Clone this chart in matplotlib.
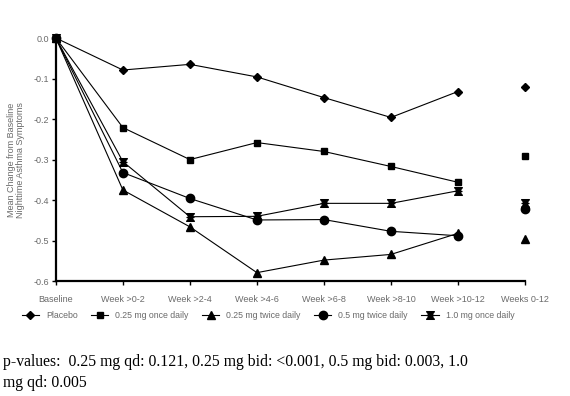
import numpy as np
import matplotlib
matplotlib.use("Agg")
import matplotlib.pyplot as plt
from matplotlib.path import Path

# categories and values
periods = ["Baseline", "Week >0-2", "Week >2-4", "Week >4-6", "Week >6-8",
           "Week >8-10", "Week >10-12", "Weeks 0-12"]

placebo = [0.0, -0.079, -0.065, -0.096, -0.147, -0.196, -0.132, -0.120]
qd_025 = [0.0, -0.221, -0.300, -0.258, -0.280, -0.317, -0.356, -0.290]
bid_025 = [0.0, -0.375, -0.466, -0.579, -0.548, -0.534, -0.482, -0.495]
bid_05 = [0.0, -0.332, -0.396, -0.449, -0.448, -0.477, -0.488, -0.422]
qd_10 = [0.0, -0.305, -0.441, -0.440, -0.408, -0.408, -0.377, -0.408]

series_names = ["Placebo", "0.25 mg once daily", "0.25 mg twice daily",
                "0.5 mg twice daily", "1.0 mg once daily"]
yticks = [0.0, -0.1, -0.2, -0.3, -0.4, -0.5, -0.6]

# bow-tie like star marker
star = Path([(-1, 1), (1, 1), (0.3, 0.15), (0.9, 0), (0.3, -0.15), (1, -1),
             (-1, -1), (-0.3, -0.15), (-0.9, 0), (-0.3, 0.15), (-1, 1)],
            closed=True)

markers = ["D", "s", "^", "o", star]
sizes = [4.5, 5, 6, 6, 5.5]
all_series = [placebo, qd_025, bid_025, bid_05, qd_10]

fig = plt.figure(figsize=(5.7, 3.96), dpi=100)
ax = fig.add_axes([0.098, 0.29, 0.823, 0.614])

x = np.arange(len(periods))
grey = "#6a6a6a"
font = "Liberation Sans"
handles = []
for vals, mk, ms, name in zip(all_series, markers, sizes, series_names):
    # weeks 0-12 summary point is shown on its own, not joined
    h, = ax.plot(x[:-1], vals[:-1], color="black", lw=0.8, marker=mk,
                 ms=ms, mfc="black", mec="black", label=name, clip_on=False)
    ax.plot(x[-1], vals[-1], ls="none", marker=mk, ms=ms, color="black",
            clip_on=False)
    handles.append(h)

ax.set_xlim(0, 7)
ax.set_ylim(-0.6, 0.0)
ax.set_yticks(yticks)
ax.set_yticklabels(["%.1f" % v for v in yticks], family=font)
ax.set_xticks(x)
ax.set_xticklabels(periods, family=font)
ax.tick_params(axis="both", colors="black", labelcolor=grey, labelsize=6.5,
               length=3, width=1)
ax.tick_params(axis="x", pad=7)
ax.tick_params(axis="y", pad=2)
for s in ["top", "right"]:
    ax.spines[s].set_visible(False)
ax.spines["left"].set_linewidth(1.6)
ax.spines["bottom"].set_linewidth(1.6)

ax.set_ylabel("Mean Change from Baseline\nNighttime Asthma Symptoms",
              fontsize=6.5, color=grey, labelpad=6, linespacing=1.0,
              family=font)

fig.legend(handles=handles, loc="center", bbox_to_anchor=(0.47, 0.204),
           ncol=5, frameon=False, prop={"family": font, "size": 6.3},
           labelcolor=grey, handlelength=2.0, columnspacing=1.5,
           handletextpad=0.8)

fig.text(0.005, 0.059, "p-values:  0.25 mg qd: 0.121, 0.25 mg bid: <0.001, "
         "0.5 mg bid: 0.003, 1.0\nmg qd: 0.005", family="Liberation Serif",
         fontsize=11.3, va="center", ha="left", linespacing=1.45)

fig.savefig("out.png", dpi=100)
